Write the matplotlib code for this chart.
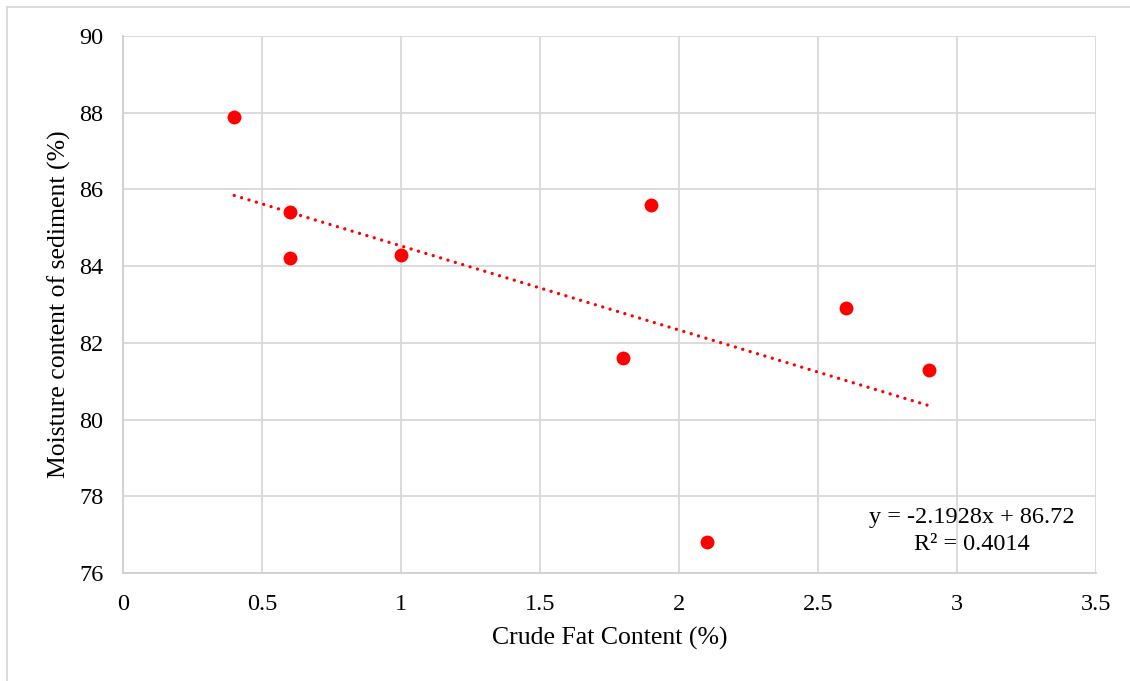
import matplotlib
matplotlib.use("Agg")
import matplotlib.pyplot as plt
import numpy as np
from matplotlib.lines import Line2D

plt.rcParams['font.family'] = ['Liberation Serif', 'DejaVu Serif']

fat = [0.4, 0.6, 0.6, 1.0, 1.8, 1.9, 2.1, 2.6, 2.9]
moisture = [87.9, 85.4, 84.2, 84.3, 81.6, 85.6, 76.8, 82.9, 81.3]
x_ticks = [0, 0.5, 1, 1.5, 2, 2.5, 3, 3.5]
x_tick_labels = ["0", "0.5", "1", "1.5", "2", "2.5", "3", "3.5"]
y_ticks = [76, 78, 80, 82, 84, 86, 88, 90]

W, H = 1130, 681
fig = plt.figure(figsize=(W / 100, H / 100), dpi=100)
ax = fig.add_axes([123 / W, 1 - 573 / H, (1096 - 123) / W, (573 - 36) / H])

# trendline from least squares fit of the data
xs = np.array(fat)
ys = np.array(moisture)
slope, intercept = np.polyfit(xs, ys, 1)
r2 = np.corrcoef(xs, ys)[0, 1] ** 2
tx = np.array([xs.min(), xs.max()])
ax.plot(tx, slope * tx + intercept, color='#ff0000', lw=2.4,
        linestyle=(0, (0.01, 2.3)), dash_capstyle='round', zorder=3)

ax.scatter(fat, moisture, s=100, color='#ff0000', zorder=4, linewidths=0)

ax.set_xlim(0, 3.5)
ax.set_ylim(76, 90)
ax.set_xticks(x_ticks)
ax.set_xticklabels(x_tick_labels)
ax.set_yticks(y_ticks)
ax.grid(True, color='#d9d9d9', lw=1.3)
ax.set_axisbelow(True)
for s in ['top', 'right']:
    ax.spines[s].set_visible(False)
for s in ['left', 'bottom']:
    ax.spines[s].set_color('#d0d0d0')
    ax.spines[s].set_linewidth(1.3)
ax.tick_params(length=0, labelsize=17.5, colors='black')
ax.tick_params(axis='x', pad=15)
ax.tick_params(axis='y', pad=14)

ax.set_xlabel('Crude Fat Content (%)', fontsize=18.5, labelpad=9)
ax.set_ylabel('Moisture content of sediment (%)', fontsize=18.5, labelpad=6)

fig.text(972 / W, 1 - 517 / H, f'y = {slope:.4f}x + {intercept:.2f}', ha='center', va='center', fontsize=17.5)
fig.text(972 / W, 1 - 545 / H, f'R² = {r2:.4f}', ha='center', va='center', fontsize=17.5)

# outer chart border (left and top visible)
fig.add_artist(Line2D([7 / W, 7 / W], [0, 1 - 7 / H], transform=fig.transFigure, color='#d9d9d9', lw=1.3))
fig.add_artist(Line2D([7 / W, 1], [1 - 7 / H, 1 - 7 / H], transform=fig.transFigure, color='#d9d9d9', lw=1.3))

fig.savefig('out.png', dpi=100)
